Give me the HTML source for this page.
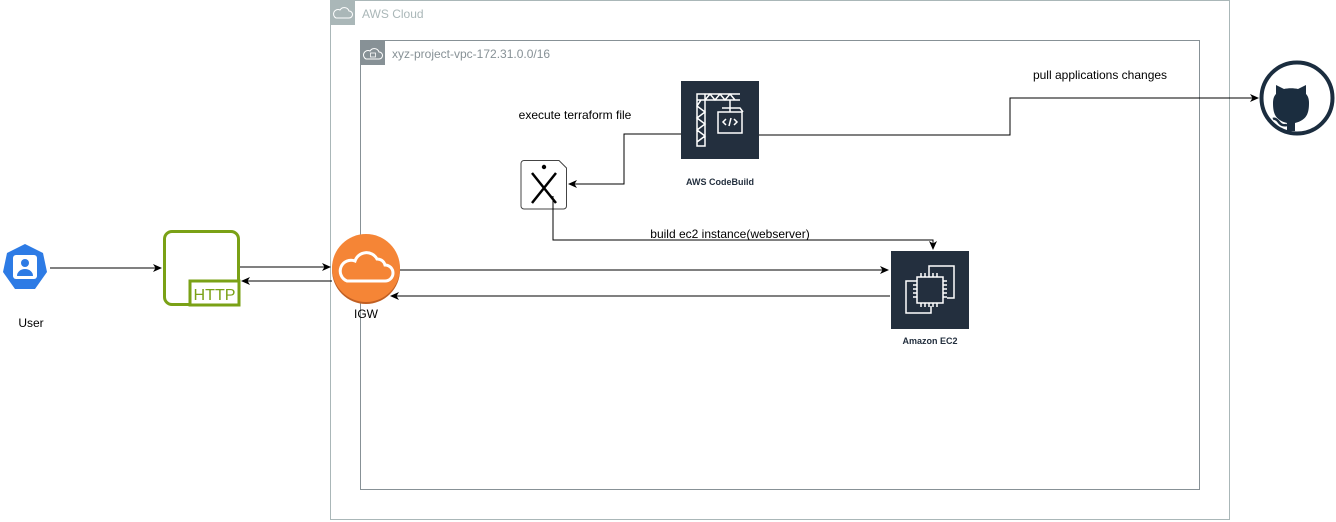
<!DOCTYPE html>
<html><head><meta charset="utf-8"><style>
html,body{margin:0;padding:0;background:#fff;width:1336px;height:522px;overflow:hidden}
svg text{font-family:"Liberation Sans",Arial,sans-serif}
</style></head><body>
<svg width="1336" height="522" viewBox="0 0 1336 522" xmlns="http://www.w3.org/2000/svg">
<defs>
<marker id="ar" markerWidth="10" markerHeight="10" refX="8" refY="5" orient="auto" markerUnits="userSpaceOnUse">
<path d="M0,1 L9,5 L0,9 L2.5,5 Z" fill="#000"/></marker>
</defs>
<!-- AWS Cloud -->
<rect x="330.5" y="0.5" width="899" height="519" fill="none" stroke="#aab7b8"/>
<rect x="330" y="0" width="25" height="25" fill="#aab7b8"/>
<path d="M336,18 h13 a3.5,3.5 0 0 0 0,-7 a5,5 0 0 0 -9,-1 a4,4 0 0 0 -4,8z" fill="none" stroke="#fff" stroke-width="1"/>
<text x="362" y="18" font-size="12" fill="#aab7b8">AWS Cloud</text>
<!-- VPC -->
<rect x="360.5" y="40.5" width="839" height="449" fill="none" stroke="#879196"/>
<rect x="360" y="40" width="25" height="25" fill="#879196"/>
<path d="M366,59 h13 a3.5,3.5 0 0 0 0,-7 a5,5 0 0 0 -9,-1 a4,4 0 0 0 -4,8z" fill="none" stroke="#fff" stroke-width="1"/>
<rect x="370.5" y="53" width="5" height="4" fill="none" stroke="#fff" stroke-width="0.8"/>
<text x="392" y="58" font-size="12" fill="#879196">xyz-project-vpc-172.31.0.0/16</text>
<!-- User -->
<polygon points="25,244 43,253 47,272 35,289 15,289 3,272 7,253" fill="#2d7be5"/>
<rect x="13" y="255" width="24" height="24" rx="3" fill="#fff"/>
<circle cx="25" cy="263" r="4" fill="#2d7be5"/>
<path d="M17,276 a8,7 0 0 1 16,0 z" fill="#2d7be5"/>
<text x="31" y="327" font-size="12" text-anchor="middle" fill="#000">User</text>
<!-- HTTP -->
<path d="M189,304.5 H172 a7.5,7.5 0 0 1 -7.5,-7.5 V239 a7.5,7.5 0 0 1 7.5,-7.5 H231 a7.5,7.5 0 0 1 7.5,7.5 V280" fill="none" stroke="#7aa116" stroke-width="3"/>
<rect x="190" y="281" width="49" height="24" fill="none" stroke="#7aa116" stroke-width="3"/>
<text x="214.5" y="300" font-size="16" text-anchor="middle" fill="#7aa116" textLength="42" lengthAdjust="spacingAndGlyphs">HTTP</text>
<!-- IGW -->
<circle cx="366" cy="270" r="34" fill="#c05f23"/>
<circle cx="366" cy="268" r="34" fill="#f58536"/>
<path d="M347,281 h38 a8,8 0 0 0 0,-16 a8,8 0 0 0 -8,-6 a12,12 0 0 0 -22,2 a10,10 0 0 0 -8,20z" fill="none" stroke="#fff" stroke-width="3"/>
<text x="366" y="318" font-size="12" text-anchor="middle" fill="#000">IGW</text>
<!-- CodeBuild -->
<rect x="681" y="81" width="78" height="78" fill="#232f3e"/>
<g fill="none" stroke="#fff" stroke-width="1.5">
<path d="M697,94 v52 h8 v-52 z M697,100 h43 M697,94 h43 M701,100 l-4,6 l8,6 l-8,6 l8,6 l-8,6 l8,6 l-8,6 M705,100 l5,-6 l5,6 l5,-6 l5,6 l5,-6 l5,6"/>
<path d="M730,100 v8 M722,108 h18 l3,4 M730,108 v4"/>
<rect x="718" y="112" width="24" height="21"/>
<path d="M726,119 l-3,3 l3,3 M734,119 l3,3 l-3,3 M731,118 l-2,8"/>
</g>
<text x="720" y="185" font-size="9" font-weight="bold" text-anchor="middle" fill="#232f3e">AWS CodeBuild</text>
<!-- Terraform doc -->
<path d="M524,160.5 H559 l7.5,7.5 V206 a3,3 0 0 1 -3,3 H524 a3,3 0 0 1 -3,-3 V163.5 a3,3 0 0 1 3,-3z" fill="#fff" stroke="#444" stroke-width="1"/>
<circle cx="544" cy="167" r="2.2" fill="#000"/>
<path d="M532,173 L556,203 M556,173 L532,203" stroke="#000" stroke-width="2.5"/>
<text x="575" y="119" font-size="12" text-anchor="middle" fill="#000">execute terraform file</text>
<!-- EC2 -->
<rect x="891" y="251" width="78" height="78" fill="#232f3e"/>
<g fill="none" stroke="#fff" stroke-width="1.5">
<path d="M929,273 v-7 h25 v32 h-7 M931,306 v7 h-25 v-32 h7"/>
<rect x="917" y="277" width="26" height="26"/>
<path d="M921,273 v4 M925,273 v4 M929,273 v4 M933,273 v4 M937,273 v4 M921,303 v4 M925,303 v4 M929,303 v4 M933,303 v4 M937,303 v4 M913,281 h4 M913,285 h4 M913,289 h4 M913,293 h4 M913,297 h4 M943,281 h4 M943,285 h4 M943,289 h4 M943,293 h4 M943,297 h4"/>
</g>
<text x="930" y="344" font-size="9" font-weight="bold" text-anchor="middle" fill="#232f3e">Amazon EC2</text>
<!-- GitHub -->
<circle cx="1297" cy="98" r="35.5" fill="none" stroke="#1b2d3f" stroke-width="4"/>
<path d="M1287,131 v-8 c-12,-3 -14,-10 -14,-20 c0,-4 1,-7 3,-9 l0,-9 l8,4 c4,-1 10,-1 14,0 l8,-4 l0,9 c2,2 3,5 3,9 c0,10 -2,17 -14,20 v8 z" fill="#1b2d3f"/>
<path d="M1287,125 c-5,1 -7,-1 -9,-4 c-1,-1 -3,-3 -5,-2" fill="none" stroke="#1b2d3f" stroke-width="2.5"/>
<!-- connectors -->
<g fill="none" stroke="#000" stroke-width="1">
<path d="M50,268 H161" marker-end="url(#ar)"/>
<path d="M240,267 H330" marker-end="url(#ar)"/>
<path d="M332,281 H242" marker-end="url(#ar)"/>
<path d="M400,270 H888" marker-end="url(#ar)"/>
<path d="M890,296 H391" marker-end="url(#ar)"/>
<path d="M681,134 H624 V184 H569" marker-end="url(#ar)"/>
<path d="M553,196 V240 H933 V249" marker-end="url(#ar)"/>
<path d="M759,135 H1010 V98 H1258" marker-end="url(#ar)"/>
</g>
<text x="730" y="238" font-size="12" text-anchor="middle" fill="#000">build ec2 instance(webserver)</text>
<text x="1100" y="79" font-size="12" text-anchor="middle" fill="#000">pull applications changes</text>
</svg>
</body></html>
